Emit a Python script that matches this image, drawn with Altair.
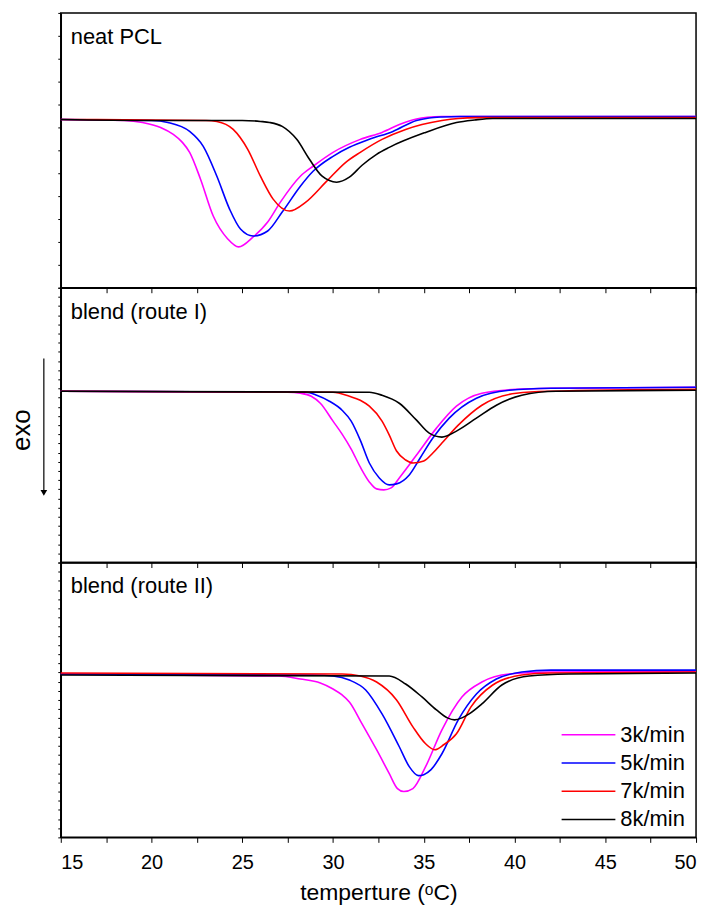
import altair as alt
import pandas as pd

series = ["3k/min", "5k/min", "7k/min", "8k/min"]
colors = ["#FF00FF", "#0000FF", "#FF0000", "#000000"]
panel_titles = ["neat PCL", "blend (route I)", "blend (route II)"]

# ---------- neat PCL (heat flow, a.u.) ----------
pcl_3k_T = [15, 18.5, 19.5, 20.5, 21.2, 21.7, 22.1, 22.7, 23.4, 24.2, 24.8, 25.6, 26.4, 27.1, 28.2, 28.9, 30.0, 31.5, 32.7, 33.8, 34.6, 35.2, 36, 40, 45, 50]
pcl_3k_H = [16.9, 16.8, 16.6, 16.1, 15.4, 14.6, 13.6, 10.9, 7.2, 4.9, 4.1, 5.1, 6.6, 8.6, 11.2, 12.2, 13.6, 14.9, 15.6, 16.5, 16.95, 17.12, 17.2, 17.2, 17.2, 17.2]
pcl_5k_T = [15, 20.0, 20.9, 22.1, 22.85, 23.6, 24.3, 24.9, 25.6, 26.4, 27.2, 28.2, 28.9, 30.0, 30.9, 32.0, 33.3, 34.6, 35.3, 36.0, 37, 50]
pcl_5k_H = [16.9, 16.8, 16.6, 15.7, 14.2, 11.2, 7.9, 5.9, 5.2, 5.7, 7.6, 10.2, 11.7, 13.2, 14.1, 14.9, 15.7, 16.8, 17.05, 17.15, 17.2, 17.2]
pcl_7k_T = [15, 23.0, 23.6, 24.5, 25.3, 26.0, 26.7, 27.6, 28.5, 29.6, 30.7, 31.5, 32.7, 34.0, 34.9, 36.0, 36.9, 38, 40, 50]
pcl_7k_H = [16.9, 16.8, 16.7, 15.9, 13.9, 11.2, 8.9, 7.7, 8.6, 10.6, 12.6, 13.6, 14.9, 15.9, 16.4, 16.8, 17.0, 17.08, 17.1, 17.1]
pcl_8k_T = [15, 20, 25, 26.0, 26.5, 27.2, 28.0, 28.7, 29.4, 30.2, 30.9, 31.6, 32.4, 33.1, 35.1, 36.8, 37.8, 38.8, 40, 45, 50]
pcl_8k_H = [16.9, 16.8, 16.8, 16.7, 16.6, 16.2, 14.9, 12.9, 11.2, 10.6, 11.1, 12.3, 13.4, 14.1, 15.6, 16.6, 16.85, 17.0, 17.0, 17.0, 17.0]

# ---------- blend (route I) ----------
r1_3k_T = [15, 27.5, 28.2, 28.8, 29.3, 30.0, 30.5, 31.0, 31.5, 32.0, 32.4, 32.8, 33.2, 33.65, 34.6, 35.7, 36.8, 38.2, 40.1, 42, 50]
r1_3k_H = [17.2, 17.1, 17.0, 16.7, 16.0, 14.2, 12.9, 11.4, 9.6, 8.1, 7.4, 7.3, 7.5, 8.5, 10.8, 13.5, 15.7, 17.0, 17.4, 17.5, 17.6]
r1_5k_T = [15, 28.5, 29.1, 29.8, 30.5, 31.0, 31.5, 32.0, 32.55, 33.1, 33.5, 34.2, 34.8, 35.5, 36.4, 37.9, 39.7, 42, 50]
r1_5k_H = [17.2, 17.1, 16.8, 16.2, 15.3, 14.2, 12.3, 10.0, 8.5, 7.8, 7.9, 8.8, 10.5, 12.5, 14.5, 16.5, 17.3, 17.5, 17.6]
r1_7k_T = [15, 30.0, 30.9, 31.5, 32.0, 32.7, 33.1, 33.5, 34.0, 34.4, 35.0, 35.5, 36.0, 36.9, 38.2, 40.1, 41.9, 50]
r1_7k_H = [17.2, 17.1, 16.7, 16.3, 15.7, 14.2, 12.8, 11.2, 10.3, 10.0, 10.2, 11.0, 12.0, 13.8, 15.8, 17.0, 17.2, 17.4]
r1_8k_T = [15, 32.0, 32.7, 33.65, 34.6, 35.3, 36.0, 36.8, 37.9, 39.0, 40.4, 42.3, 50]
r1_8k_H = [17.2, 17.1, 16.8, 16.0, 14.3, 13.0, 12.6, 13.2, 14.5, 15.8, 16.8, 17.2, 17.3]

# ---------- blend (route II) ----------
r2_3k_T = [15, 27.0, 28.2, 29.3, 30.0, 30.5, 30.9, 31.6, 32.4, 33.1, 33.55, 33.9, 34.4, 35.1, 36.0, 37.1, 38.2, 39.7, 42, 50]
r2_3k_H = [16.4, 16.2, 15.9, 15.5, 14.9, 14.3, 13.6, 11.4, 8.8, 6.4, 4.9, 4.6, 4.9, 7.1, 10.8, 14.1, 15.6, 16.4, 16.6, 16.7]
r2_5k_T = [15, 29.0, 30.0, 30.9, 31.8, 32.7, 33.65, 34.2, 34.7, 35.0, 35.4, 36.0, 36.9, 37.9, 39.0, 40.4, 42, 50]
r2_5k_H = [16.4, 16.3, 16.2, 15.8, 14.8, 12.4, 9.1, 7.1, 6.2, 6.3, 6.8, 8.4, 11.8, 14.4, 15.9, 16.6, 16.8, 16.8]
r2_7k_T = [15, 30.5, 31.5, 32.4, 33.5, 34.4, 35.1, 35.6, 36.1, 36.8, 37.6, 38.8, 40.4, 42, 50]
r2_7k_H = [16.5, 16.4, 16.2, 15.6, 13.8, 11.1, 9.4, 8.8, 9.3, 10.4, 13.1, 15.3, 16.3, 16.5, 16.6]
r2_8k_T = [15, 33.1, 34.0, 34.9, 35.7, 36.3, 36.7, 37.1, 37.5, 38.2, 39.3, 40.8, 43, 50]
r2_8k_H = [16.3, 16.2, 15.4, 14.1, 12.8, 12.0, 11.8, 12.0, 12.4, 13.4, 15.3, 16.2, 16.4, 16.5]

curves = {
    "neat PCL": [(pcl_3k_T, pcl_3k_H), (pcl_5k_T, pcl_5k_H), (pcl_7k_T, pcl_7k_H), (pcl_8k_T, pcl_8k_H)],
    "blend (route I)": [(r1_3k_T, r1_3k_H), (r1_5k_T, r1_5k_H), (r1_7k_T, r1_7k_H), (r1_8k_T, r1_8k_H)],
    "blend (route II)": [(r2_3k_T, r2_3k_H), (r2_5k_T, r2_5k_H), (r2_7k_T, r2_7k_H), (r2_8k_T, r2_8k_H)],
}

x_ticks = [15 + 2.5 * i for i in range(15)]
FONT = "Liberation Sans"
W, H = 638, 276
Y_DOMAIN = [0, 27.6]
color_scale = alt.Scale(domain=series, range=colors)


def panel(name, idx):
    rows = []
    for s, (ts, hs) in zip(series, curves[name]):
        for t, h in zip(ts, hs):
            rows.append({"T": t, "H": h, "rate": s})
    df = pd.DataFrame(rows)
    last = idx == 2
    step = 2.3 if idx == 0 else 0.92
    y_vals = [round(step * k, 3) for k in range(int(27.6 / step) + 1)]
    x_axis = alt.Axis(
        values=x_ticks,
        labels=last,
        labelExpr="datum.value % 5 === 0 ? datum.label : ''",
        title="temperture (ᵒC)" if last else None,
        ticks=True,
        tickSize=5,
        grid=False,
    )
    lines = alt.Chart(df).mark_line(strokeWidth=1.6, interpolate="monotone").encode(
        x=alt.X("T:Q", scale=alt.Scale(domain=[15, 50], nice=False, zero=False), axis=x_axis),
        y=alt.Y("H:Q", scale=alt.Scale(domain=Y_DOMAIN, nice=False, zero=False),
                axis=alt.Axis(labels=False, title=None, values=y_vals, tickSize=3, grid=False)),
        color=alt.Color("rate:N", scale=color_scale, legend=None),
        order=alt.Order("T:Q"),
    )
    label = alt.Chart(pd.DataFrame({"t": [name]})).mark_text(
        align="left", baseline="middle", fontSize=22, font=FONT, color="black"
    ).encode(x=alt.value(10), y=alt.value(24), text="t:N")
    layers = [lines, label]
    if idx == 1:
        exo = alt.Chart(pd.DataFrame({"t": ["exo"]})).mark_text(
            angle=270, align="center", baseline="middle", fontSize=26, font=FONT, color="black"
        ).encode(x=alt.value(-39), y=alt.value(143), text="t:N")
        shaft = alt.Chart(pd.DataFrame({"a": [0]})).mark_rule(color="black", strokeWidth=1.2).encode(
            x=alt.value(-17), y=alt.value(71), y2=alt.value(204)
        )
        head = alt.Chart(pd.DataFrame({"a": [0]})).mark_point(
            shape="triangle-down", filled=True, color="black", size=45, opacity=1
        ).encode(x=alt.value(-17), y=alt.value(206))
        layers += [exo, shaft, head]
    if last:
        leg_df = pd.DataFrame({"rate": series})
        leg_y = alt.Y("rate:N", scale=alt.Scale(type="point", domain=series, range=[173, 258], padding=0), axis=None)
        leg_lines = alt.Chart(leg_df).mark_rule(strokeWidth=1.6).encode(
            x=alt.value(503), x2=alt.value(557), y=leg_y,
            color=alt.Color("rate:N", scale=color_scale, legend=None),
        )
        leg_text = alt.Chart(leg_df).mark_text(
            align="left", baseline="middle", fontSize=22, font=FONT, color="black"
        ).encode(x=alt.value(562), y=leg_y, text="rate:N")
        layers += [leg_lines, leg_text]
        return alt.layer(*layers).resolve_scale(y="independent").properties(width=W, height=H)
    return alt.layer(*layers).properties(width=W, height=H)


chart = alt.vconcat(
    *[panel(n, i) for i, n in enumerate(panel_titles)], spacing=0, bounds="flush"
).properties(padding={"left": 0, "top": 1, "right": 5, "bottom": 0}).configure_view(
    stroke="black", strokeWidth=1.5
).configure_axis(
    domainColor="black", tickColor="black", labelColor="black", titleColor="black",
    labelFont=FONT, titleFont=FONT, labelFontSize=20, titleFontSize=23,
    titleFontWeight="normal", labelPadding=10, titlePadding=9, domainWidth=1.5,
)

chart.save("out.html", embed_options={"renderer": "svg", "actions": False})
